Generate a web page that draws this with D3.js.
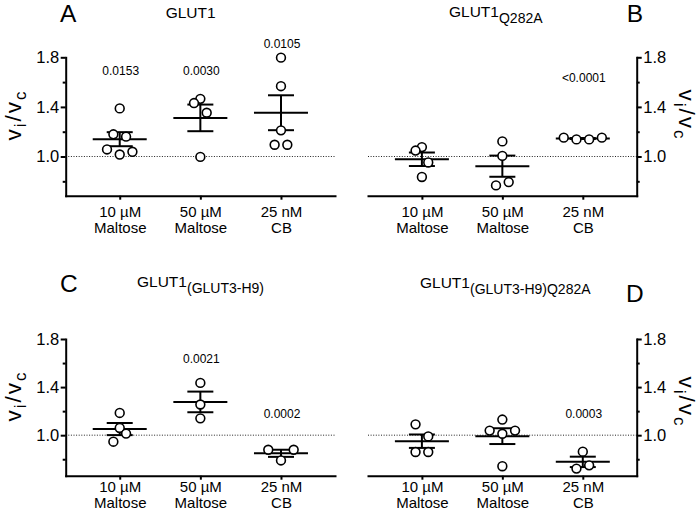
<!DOCTYPE html>
<html>
<head>
<meta charset="utf-8">
<script src="https://cdn.jsdelivr.net/npm/d3@7"></script>
<style>
body { margin: 0; background: #fff; }
svg text { font-family: "Liberation Sans", Arial, sans-serif; fill: #000; }
</style>
</head>
<body>
<svg id="chart" width="700" height="515"></svg>
<script>
const categories = [["10 µM", "Maltose"], ["50 µM", "Maltose"], ["25 nM", "CB"]];
const majorTicks = [1.0, 1.4, 1.8];
const minorTicks = [0.8, 1.2, 1.6];

// vi/vc for each experiment, one array per treatment
const glut1 = [
  [1.388, 1.179, 1.16, 1.057, 1.016, 1.038],
  [1.465, 1.431, 1.353, 0.997],
  [1.797, 1.567, 1.211, 1.095, 1.095]
];
const glut1Q282A = [
  [1.076, 1.048, 0.952, 0.835],
  [1.122, 1.005, 0.767, 0.794],
  [1.152, 1.138, 1.138, 1.152]
];
const glut1H9 = [
  [1.185, 1.06, 0.946, 1.013],
  [1.435, 1.255, 1.14],
  [0.879, 0.79, 0.879]
];
const glut1H9Q282A = [
  [1.09, 0.99, 0.86, 0.86],
  [1.13, 1.038, 1.012, 1.038, 0.742],
  [0.863, 0.722, 0.749]
];

// p values (vs 1.0) and the height they are written at
const pGlut1 = ["0.0153", "0.0030", "0.0105"];
const pGlut1Q282A = [null, null, "<0.0001"];
const pGlut1H9 = [null, "0.0021", "0.0002"];
const pGlut1H9Q282A = [null, null, "0.0003"];

const panels = [
  {letter: "A", title: "GLUT1", sub: "", data: glut1, p: pGlut1, pAt: [1.655, 1.655, 1.873],
   side: "left", x0: 65.7, x1: 335, top: 57.3, bottom: 195.7, yMin: 0.684, catDy: 21.6,
   titleX: 165.7, titleY: 18.3, letterX: 60, letterY: 22.2, labelY: 115},
  {letter: "B", title: "GLUT1", sub: "Q282A", data: glut1Q282A, p: pGlut1Q282A, pAt: [0, 0, 1.598],
   side: "right", x0: 368, x1: 636.7, top: 57.3, bottom: 195.7, yMin: 0.684, catDy: 21.6,
   titleX: 449, titleY: 17.3, letterX: 626.7, letterY: 22.2, labelY: 115},
  {letter: "C", title: "GLUT1", sub: "(GLUT3-H9)", data: glut1H9, p: pGlut1H9, pAt: [0, 1.598, 1.141],
   side: "left", x0: 65.7, x1: 335, top: 339, bottom: 475.7, yMin: 0.663, catDy: 16.5,
   titleX: 137, titleY: 287, letterX: 60, letterY: 291.7, labelY: 396},
  {letter: "D", title: "GLUT1", sub: "(GLUT3-H9)Q282A", data: glut1H9Q282A, p: pGlut1H9Q282A, pAt: [0, 0, 1.147],
   side: "right", x0: 368, x1: 636.7, top: 339, bottom: 475.7, yMin: 0.663, catDy: 16.5,
   titleX: 420, titleY: 288.3, letterX: 626, letterY: 301.7, labelY: 402}
];

const spacing = 12.7;   // horizontal distance between dots in a row
const rowGap = 13;      // dots closer than this (px) share a row

const svg = d3.select("#chart");

// Prism-like scatter: sort by value, group close values into rows, centre each row
function swarm(vals, y) {
  const order = d3.range(vals.length).sort((a, b) => vals[a] - vals[b] || a - b);
  const off = new Array(vals.length);
  let i = 0;
  while (i < order.length) {
    const start = y(vals[order[i]]);
    let j = i;
    while (j < order.length && Math.abs(y(vals[order[j]]) - start) < rowGap) j++;
    const row = order.slice(i, j).sort((a, b) => a - b);
    row.forEach((k, n) => off[k] = (n - (row.length - 1) / 2) * spacing);
    i = j;
  }
  return off;
}

function drawPanel(p) {
  const g = svg.append("g");
  const x = d3.scalePoint().domain(d3.range(categories.length)).range([p.x0, p.x1]).padding(0.67);
  const y = d3.scaleLinear().domain([p.yMin, 1.8]).range([p.bottom, p.top]);
  const axisX = p.side === "left" ? p.x0 : p.x1;

  // dotted reference at 1.0
  g.append("line")
    .attr("x1", p.x0).attr("x2", p.x1)
    .attr("y1", y(1)).attr("y2", y(1))
    .attr("stroke", "#222").attr("stroke-width", 1)
    .attr("stroke-dasharray", "1,1.6");

  // y axis
  const mk = p.side === "left" ? d3.axisLeft : d3.axisRight;
  const yMajor = g.append("g").attr("transform", "translate(" + axisX + ",0)")
    .call(mk(y).tickValues(majorTicks).tickSize(5).tickSizeOuter(0).tickPadding(1.5).tickFormat(d3.format(".1f")));
  const yMinor = g.append("g").attr("transform", "translate(" + axisX + ",0)")
    .call(mk(y).tickValues(minorTicks).tickSize(3).tickSizeOuter(0).tickFormat(""));
  yMinor.select(".domain").remove();
  yMajor.attr("font-family", null).attr("font-size", null);
  yMajor.selectAll("text").attr("font-size", 16.5).attr("fill", "#111");

  // x axis
  const xAxis = g.append("g").attr("transform", "translate(0," + p.bottom + ")")
    .call(d3.axisBottom(x).tickSize(4).tickSizeOuter(0).tickFormat(""));
  xAxis.attr("font-family", null).attr("font-size", null);
  const lab = xAxis.selectAll(".tick").append("text")
    .attr("text-anchor", "middle").attr("font-size", 15).attr("fill", "#111");
  lab.append("tspan").attr("x", 0).attr("y", p.catDy).text(i => categories[i][0]);
  lab.append("tspan").attr("x", 0).attr("y", p.catDy + 16).text(i => categories[i][1]);

  g.selectAll(".domain, .tick line")
    .attr("stroke", "#000").attr("stroke-width", 2).attr("stroke-linecap", "square");
  g.selectAll(".tick line").attr("stroke-linecap", "butt");

  // mean and SEM
  p.data.forEach((vals, i) => {
    const cx = x(i);
    const m = d3.mean(vals);
    const sem = d3.deviation(vals) / Math.sqrt(vals.length);
    const s = g.append("g").attr("stroke", "#000").attr("stroke-width", 2);
    s.append("line").attr("x1", cx - 27).attr("x2", cx + 27).attr("y1", y(m)).attr("y2", y(m));
    s.append("line").attr("x1", cx).attr("x2", cx).attr("y1", y(m - sem)).attr("y2", y(m + sem));
    [m - sem, m + sem].forEach(v =>
      s.append("line").attr("x1", cx - 13).attr("x2", cx + 13).attr("y1", y(v)).attr("y2", y(v)));

    const off = swarm(vals, y);
    g.selectAll(null).data(vals).enter().append("circle")
      .attr("cx", (d, k) => cx + off[k])
      .attr("cy", d => y(d))
      .attr("r", 4.4)
      .attr("fill", "#fff").attr("stroke", "#000").attr("stroke-width", 1.6);

    if (p.p[i]) {
      g.append("text").attr("x", cx + 1).attr("y", y(p.pAt[i]))
        .attr("text-anchor", "middle").attr("font-size", 12).attr("fill", "#111")
        .text(p.p[i]);
    }
  });

  // title with subscript
  const t = g.append("text").attr("x", p.titleX).attr("y", p.titleY).attr("font-size", 15.5);
  t.append("tspan").text(p.title);
  if (p.sub) t.append("tspan").attr("font-size", 14).attr("dy", 6).text(p.sub);

  g.append("text").attr("x", p.letterX).attr("y", p.letterY).attr("font-size", 24.5).text(p.letter);

  // vi/vc axis label
  const lx = p.side === "left" ? 20.5 : 679;
  const rot = p.side === "left" ? -90 : 90;
  const yl = g.append("text")
    .attr("transform", "translate(" + lx + "," + p.labelY + ") rotate(" + rot + ")")
    .attr("text-anchor", "middle").attr("font-size", 22.5).attr("letter-spacing", 2);
  yl.append("tspan").text("v");
  yl.append("tspan").attr("font-size", 17).attr("dy", 5).text("i");
  yl.append("tspan").attr("dy", -5).text("/v");
  yl.append("tspan").attr("font-size", 17).attr("dy", 5).text("c");
}

panels.forEach(drawPanel);
</script>
</body>
</html>
